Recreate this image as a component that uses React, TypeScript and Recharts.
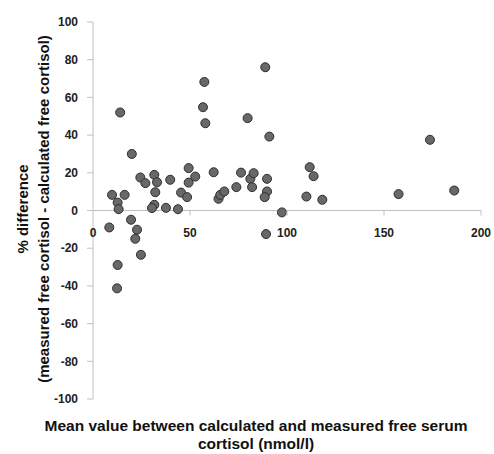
import { ScatterChart, Scatter, XAxis, YAxis, ReferenceLine } from "recharts"

// mean value (nmol/l) vs % difference
const meanValues = [
  14, 20, 57.4, 56.7, 57.9, 88.8, 79.7, 90.9, 9.8, 12.7,
  13.2, 16.3, 24.4, 27, 31.6, 33, 32.1, 31.6, 30.4, 37.6,
  39.8, 43.8, 45.4, 48.5, 49.3, 49.3, 52.7, 62.2, 64.7, 65.6,
  67.7, 73.9, 76.3, 81.1, 82.8, 82, 89.7, 89.7, 88.5, 97.4,
  8.4, 19.6, 22.7, 21.8, 24.7, 12.7, 12.4, 89.2, 173.7, 111.7,
  113.7, 110, 118.2, 157.5, 186.2,
]
const pctDiff = [
  52, 30, 68.2, 54.8, 46.3, 76, 49, 39.2, 8.3, 4.2,
  0.7, 8.3, 17.5, 14.5, 18.9, 15, 9.7, 3, 1.3, 1.4,
  16.3, 0.7, 9.5, 7.1, 22.5, 14.8, 18, 20.3, 6.2, 8.3,
  10.1, 12.4, 20.1, 16.8, 19.8, 12.4, 16.8, 10.1, 7.1, -1,
  -9, -4.9, -10.2, -15, -23.5, -28.9, -41.3, -12.5, 37.5, 23,
  18.2, 7.4, 5.7, 8.7, 10.6,
]
const xTicks = [0, 50, 100, 150, 200]
const yTicks = [-100, -80, -60, -40, -20, 0, 20, 40, 60, 80, 100]

const data = meanValues.map((x, i) => ({ x, y: pctDiff[i] }))

const W = 494
const H = 454
const TOP = 22
const PLOT_H = 377
const ZERO_Y = TOP + PLOT_H / 2
const AXIS = "#c0c0c0"
const FONT = "'Liberation Sans', Arial, sans-serif"

function XTick(props: any) {
  const { x, payload } = props
  return (
    <g>
      {payload.value !== 0 && <line x1={x} x2={x} y1={ZERO_Y} y2={ZERO_Y + 5} stroke={AXIS} />}
      <text x={x} y={ZERO_Y + 22} textAnchor="middle" dominantBaseline="central" fontSize={12} fontWeight="bold" fill="#222" fontFamily={FONT}>
        {payload.value}
      </text>
    </g>
  )
}

export default function App() {
  return (
    <div style={{ position: "absolute", left: 0, top: 0, background: "#fff" }}>
      <ScatterChart width={W} height={H} margin={{ top: TOP, right: 13, bottom: 0, left: 0 }}>
        <XAxis
          type="number"
          dataKey="x"
          domain={[0, 200]}
          ticks={xTicks}
          axisLine={false}
          tickLine={false}
          tick={<XTick />}
          height={55}
          label={{
            content: () => (
              <g fontFamily={FONT} fontWeight="bold" fontSize={15.5} fill="#111" textAnchor="middle">
                <text x={256} y={431}>Mean value between calculated and measured free serum</text>
                <text x={256} y={449}>cortisol (nmol/l)</text>
              </g>
            ),
          }}
        />
        <YAxis
          type="number"
          dataKey="y"
          domain={[-100, 100]}
          ticks={yTicks}
          width={93}
          stroke={AXIS}
          tickSize={6}
          tickMargin={9}
          tick={{ fontSize: 12, fontWeight: "bold", fill: "#222", fontFamily: FONT }}
          label={{
            content: () => (
              <g fontFamily={FONT} fontWeight="bold" fontSize={15} fill="#111" textAnchor="middle">
                <text transform="translate(28,209) rotate(-90)">% difference</text>
                <text transform="translate(49,209) rotate(-90)">(measured free cortisol - calculated free cortisol)</text>
              </g>
            ),
          }}
        />
        <ReferenceLine y={0} stroke={AXIS} />
        <Scatter data={data} fill="#686868" stroke="#2e2e2e" strokeWidth={1} isAnimationActive={false}
          shape={(p: any) => <circle cx={p.cx} cy={p.cy} r={4.5} fill="#686868" stroke="#2e2e2e" strokeWidth={1} />} />
      </ScatterChart>
    </div>
  )
}
